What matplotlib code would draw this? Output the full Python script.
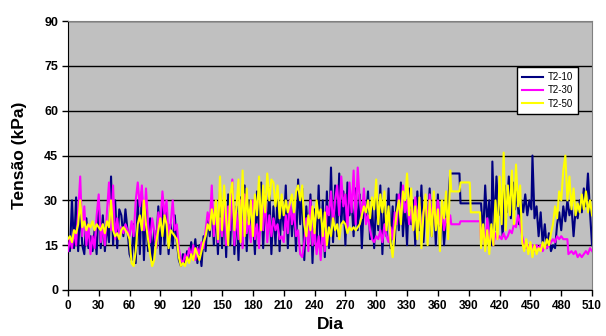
#!/usr/bin/env python3
"""Tensão (kPa) por dia - séries T2-10, T2-30, T2-50."""

import matplotlib
matplotlib.use("Agg")
import matplotlib.pyplot as plt

# (dia, tensão kPa)
t2_10 = [
    (0, 15), (2, 13), (4, 30), (6, 14), (8, 31), (10, 13), (12, 28), (14, 15), (16, 12), (18, 24),
    (20, 14), (22, 18), (24, 13), (26, 20), (28, 12), (30, 30), (32, 14), (34, 25), (36, 13), (38, 22),
    (40, 16), (42, 38), (44, 15), (46, 30), (48, 14), (50, 27), (52, 25), (54, 18), (56, 27), (58, 20),
    (60, 12), (62, 10), (64, 22), (66, 9), (68, 30), (70, 12), (72, 33), (74, 10), (76, 28), (78, 13),
    (80, 24), (82, 10), (84, 20), (86, 14), (88, 28), (90, 12), (92, 30), (94, 15), (96, 26), (98, 12),
    (100, 22), (102, 14), (104, 25), (106, 16), (108, 10), (110, 8), (112, 12), (114, 9), (116, 13), (118, 10),
    (120, 16), (122, 11), (124, 17), (126, 9), (128, 15), (130, 8), (132, 18), (134, 13), (136, 24), (138, 18),
    (140, 30), (142, 15), (144, 27), (146, 12), (148, 33), (150, 14), (152, 30), (154, 11), (156, 32), (158, 15),
    (160, 34), (162, 12), (164, 28), (166, 10), (168, 31), (170, 15), (172, 35), (174, 13), (176, 30), (178, 17),
    (180, 24), (182, 12), (184, 33), (186, 18), (188, 36), (190, 14), (192, 30), (194, 20), (196, 34), (198, 12),
    (200, 28), (202, 15), (204, 32), (206, 13), (208, 30), (210, 20), (212, 35), (214, 14), (216, 30), (218, 18),
    (220, 28), (222, 13), (224, 37), (226, 22), (228, 34), (230, 10), (232, 28), (234, 16), (236, 32), (238, 9),
    (240, 27), (242, 15), (244, 35), (246, 12), (248, 30), (250, 11), (252, 33), (254, 14), (256, 41), (258, 16),
    (260, 35), (262, 18), (264, 39), (266, 22), (268, 33), (270, 15), (272, 36), (274, 25), (276, 30), (278, 18),
    (280, 34), (282, 20), (284, 32), (286, 14), (288, 30), (290, 24), (292, 33), (294, 17), (296, 28), (298, 14),
    (300, 31), (302, 20), (304, 35), (306, 12), (308, 30), (310, 18), (312, 34), (314, 14), (316, 28), (318, 15),
    (320, 32), (322, 20), (324, 36), (326, 18), (328, 30), (330, 15), (332, 34), (334, 22), (336, 30), (338, 15),
    (340, 33), (342, 20), (344, 35), (346, 16), (348, 29), (350, 22), (352, 34), (354, 18), (356, 30), (358, 15),
    (360, 32), (362, 14), (364, 28), (366, 15), (368, 24), (370, 30), (372, 39), (381, 39), (382, 29), (402, 29),
    (404, 18), (406, 35), (408, 22), (410, 30), (412, 15), (413, 43), (415, 20), (417, 38), (419, 25), (421, 30),
    (423, 18), (425, 35), (427, 26), (429, 38), (431, 24), (433, 36), (435, 27), (437, 33), (439, 22), (441, 30),
    (443, 26), (445, 32), (447, 25), (449, 30), (451, 27), (452, 45), (454, 24), (456, 28), (458, 18), (460, 26),
    (462, 15), (464, 22), (466, 14), (468, 19), (470, 13), (472, 15), (474, 14), (476, 22), (478, 26), (480, 20),
    (482, 28), (484, 23), (486, 30), (488, 25), (490, 28), (492, 18), (494, 27), (496, 24), (498, 30), (500, 26),
    (502, 34), (504, 28), (506, 39), (508, 26), (510, 15),
]

t2_30 = [
    (0, 13), (2, 17), (4, 14), (6, 20), (8, 15), (10, 26), (12, 38), (14, 18), (16, 28), (18, 15),
    (20, 22), (22, 12), (24, 18), (26, 14), (28, 25), (30, 32), (32, 16), (34, 22), (36, 15), (38, 26),
    (40, 36), (42, 20), (44, 35), (46, 17), (48, 24), (50, 18), (52, 21), (54, 19), (56, 22), (58, 20),
    (60, 18), (62, 23), (64, 18), (66, 30), (68, 36), (70, 28), (72, 35), (74, 20), (76, 34), (78, 22),
    (80, 16), (82, 24), (84, 20), (86, 14), (88, 26), (90, 22), (92, 33), (94, 25), (96, 30), (98, 18),
    (100, 22), (102, 30), (104, 20), (106, 22), (108, 14), (110, 10), (112, 9), (114, 12), (116, 10), (118, 14),
    (120, 11), (122, 15), (124, 10), (126, 14), (128, 12), (130, 16), (132, 14), (134, 20), (136, 26), (138, 22),
    (140, 35), (142, 18), (144, 28), (146, 16), (148, 24), (150, 18), (152, 30), (154, 15), (156, 28), (158, 20),
    (160, 37), (162, 15), (164, 26), (166, 17), (168, 30), (170, 14), (172, 32), (174, 19), (176, 24), (178, 16),
    (180, 30), (182, 17), (184, 22), (186, 14), (188, 27), (190, 20), (192, 32), (194, 16), (196, 25), (198, 18),
    (200, 24), (202, 20), (204, 22), (206, 17), (208, 18), (210, 16), (212, 25), (214, 19), (216, 30), (218, 22),
    (220, 27), (222, 18), (224, 20), (226, 12), (228, 11), (230, 16), (232, 24), (234, 13), (236, 30), (238, 15),
    (240, 20), (242, 12), (244, 18), (246, 10), (248, 22), (250, 13), (252, 28), (254, 25), (256, 33), (258, 22),
    (260, 30), (262, 35), (264, 25), (266, 38), (268, 28), (270, 32), (272, 20), (274, 36), (276, 26), (278, 40),
    (280, 22), (282, 41), (284, 30), (286, 24), (288, 34), (290, 22), (292, 25), (294, 20), (296, 17), (298, 16),
    (300, 18), (302, 17), (304, 20), (306, 16), (308, 22), (310, 18), (312, 16), (314, 21), (316, 17), (318, 26),
    (320, 22), (322, 32), (324, 24), (326, 35), (328, 26), (330, 30), (332, 22), (334, 27), (336, 20), (338, 31),
    (340, 24), (342, 28), (344, 19), (346, 26), (348, 30), (350, 22), (352, 32), (354, 24), (356, 28), (358, 21),
    (360, 30), (362, 22), (364, 26), (366, 20), (368, 24), (370, 22), (372, 25), (373, 22), (381, 22), (382, 23),
    (401, 23), (402, 16), (404, 21), (406, 14), (408, 24), (410, 17), (412, 20), (414, 15), (416, 19), (418, 17),
    (420, 18), (422, 17), (424, 19), (426, 17), (428, 18), (430, 20), (432, 19), (434, 22), (436, 21), (438, 25),
    (440, 22), (442, 18), (444, 15), (446, 14), (448, 15), (450, 14), (452, 15), (454, 13), (456, 15), (458, 14),
    (460, 15), (462, 13), (464, 15), (466, 14), (468, 15), (470, 16), (472, 17), (474, 16), (476, 18), (478, 17),
    (480, 18), (482, 17), (484, 17), (486, 17), (487, 12), (490, 13), (492, 12), (494, 13), (496, 11), (498, 12),
    (500, 11), (502, 12), (504, 13), (506, 12), (508, 14), (510, 13),
]

t2_50 = [
    (0, 17), (2, 18), (4, 16), (6, 20), (8, 19), (10, 22), (12, 30), (14, 21), (16, 23), (18, 20),
    (20, 22), (22, 21), (24, 23), (26, 20), (28, 22), (30, 21), (32, 20), (34, 22), (36, 19), (38, 23),
    (40, 21), (42, 30), (44, 20), (46, 18), (48, 19), (50, 17), (52, 20), (54, 21), (56, 20), (58, 19),
    (60, 17), (62, 9), (64, 8), (66, 13), (68, 22), (70, 25), (72, 20), (74, 30), (76, 22), (78, 17),
    (80, 12), (82, 8), (84, 10), (86, 16), (88, 20), (90, 24), (92, 18), (94, 25), (96, 22), (98, 14),
    (100, 20), (102, 19), (104, 18), (106, 17), (108, 11), (110, 8), (112, 9), (114, 8), (116, 11), (118, 9),
    (120, 12), (122, 10), (124, 14), (126, 12), (128, 10), (130, 13), (132, 16), (134, 18), (136, 22), (138, 20),
    (140, 27), (142, 22), (144, 30), (146, 17), (148, 38), (150, 20), (152, 35), (154, 24), (156, 15), (158, 32),
    (160, 36), (162, 20), (164, 28), (166, 37), (168, 16), (170, 40), (172, 18), (174, 34), (176, 22), (178, 30),
    (180, 18), (182, 32), (184, 25), (186, 38), (188, 20), (190, 35), (192, 26), (194, 39), (196, 30), (198, 37),
    (200, 36), (202, 28), (204, 35), (206, 24), (208, 32), (210, 25), (212, 30), (214, 26), (216, 29), (218, 32),
    (220, 26), (222, 33), (224, 35), (226, 30), (228, 35), (230, 22), (232, 18), (234, 25), (236, 20), (238, 28),
    (240, 19), (242, 30), (244, 24), (246, 27), (248, 18), (250, 26), (252, 15), (254, 21), (256, 18), (258, 24),
    (260, 20), (262, 22), (264, 17), (266, 22), (268, 23), (270, 22), (272, 19), (274, 21), (276, 20), (278, 21),
    (280, 20), (282, 21), (284, 22), (286, 25), (288, 28), (290, 26), (292, 30), (294, 24), (296, 31), (298, 27),
    (300, 37), (302, 22), (304, 32), (306, 26), (308, 33), (310, 20), (312, 28), (314, 16), (316, 11), (318, 20),
    (320, 26), (322, 30), (324, 22), (326, 33), (328, 30), (330, 39), (332, 25), (334, 34), (336, 20), (338, 28),
    (340, 17), (342, 31), (344, 14), (346, 26), (348, 32), (350, 15), (352, 30), (354, 18), (356, 33), (358, 20),
    (360, 27), (362, 13), (364, 30), (366, 24), (368, 33), (370, 17), (372, 40), (373, 33), (381, 33), (382, 36),
    (391, 36), (392, 26), (401, 26), (402, 14), (404, 22), (406, 13), (408, 20), (410, 12), (412, 22), (414, 15),
    (416, 30), (418, 17), (420, 38), (422, 22), (424, 46), (426, 20), (428, 35), (430, 25), (432, 40), (434, 22),
    (436, 42), (438, 28), (440, 35), (442, 16), (444, 13), (446, 17), (448, 12), (450, 16), (452, 11), (454, 15),
    (456, 12), (458, 14), (460, 13), (462, 16), (464, 14), (466, 17), (468, 15), (470, 19), (472, 22), (474, 28),
    (476, 24), (478, 33), (480, 30), (482, 40), (484, 45), (486, 30), (488, 38), (490, 27), (492, 34), (494, 25),
    (496, 29), (498, 26), (500, 32), (502, 27), (504, 33), (506, 26), (508, 30), (510, 25),
]

series_names = ["T2-10", "T2-30", "T2-50"]
series_colors = ["#000080", "#FF00FF", "#FFFF00"]
x_ticks = list(range(0, 511, 30))
y_ticks = list(range(0, 91, 15))

plt.rcParams["font.family"] = ["Liberation Sans", "DejaVu Sans"]

fig = plt.figure(figsize=(6.06, 3.36), dpi=100)
ax = fig.add_axes([0.112, 0.137, 0.865, 0.8])
ax.set_facecolor("#C0C0C0")

for data, name, color in zip([t2_10, t2_30, t2_50], series_names, series_colors):
    days = [d for d, _ in data]
    vals = [v for _, v in data]
    ax.plot(days, vals, color=color, lw=1.5, label=name, zorder=3)

ax.set_xlim(0, 510)
ax.set_ylim(0, 90)
ax.set_xticks(x_ticks)
ax.set_yticks(y_ticks)
ax.tick_params(axis="both", direction="out", length=4, width=1, pad=3)
ax.tick_params(axis="x", labelsize=8.5)
ax.tick_params(axis="y", labelsize=9)
for lbl in ax.get_xticklabels() + ax.get_yticklabels():
    lbl.set_fontweight("bold")

ax.grid(axis="y", color="black", lw=1, zorder=1)
ax.set_axisbelow(True)
for side in ["left", "bottom"]:
    ax.spines[side].set_color("black")
for side in ["top", "right"]:
    ax.spines[side].set_color("#808080")

ax.set_xlabel("Dia", fontsize=12.5, fontweight="bold", labelpad=4)
ax.set_ylabel("Tensão (kPa)", fontsize=12.5, fontweight="bold", labelpad=12)

leg = ax.legend(loc="upper left", bbox_to_anchor=(0.857, 0.829), fontsize=7,
                frameon=True, fancybox=False, edgecolor="black", framealpha=1,
                handlelength=2.2, borderpad=0.5, labelspacing=0.35, handletextpad=0.5,
                borderaxespad=0)
leg.get_frame().set_linewidth(1)

fig.savefig("out.png", dpi=100)
